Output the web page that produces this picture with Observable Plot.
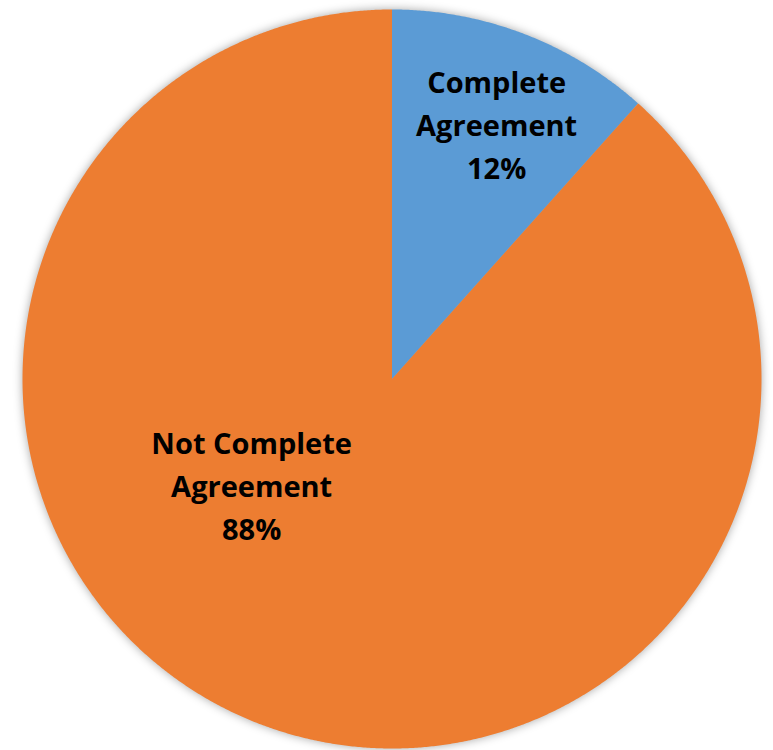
<!DOCTYPE html>
<html>
<head>
<meta charset="utf-8">
<script src="https://cdn.jsdelivr.net/npm/d3@7"></script>
<script src="https://cdn.jsdelivr.net/npm/@observablehq/plot@0.6"></script>
<style>
  html, body { margin: 0; padding: 0; background: #ffffff; }
  #chart { width: 773px; height: 750px; }
</style>
</head>
<body>
<div id="chart"></div>
<script>
// ---- data ----
const categories = ["Complete Agreement", "Not Complete Agreement"];
const values = [11.6, 88.4];
const labelNames = [["Complete", "Agreement"], ["Not Complete", "Agreement"]];
const colors = ["#5B9BD5", "#ED7D31"];

// ---- layout (not data) ----
const W = 773, H = 750;
const cx = 391.5, cy = 378.5, R = 369.5;
// label placement: angle (deg, clockwise from 12 o'clock) and radius fraction
const labelPlacement = [{angle: 22.5, r: 0.74}, {angle: 232.3, r: 0.48}];

const total = d3.sum(values);
const pie = d3.pie().sort(null).value(d => d.value)(
  categories.map((c, i) => ({category: c, value: values[i]}))
);

// polygon points for each slice in unit coordinates (y up)
const slicePts = [];
pie.forEach((s, i) => {
  const n = Math.max(2, Math.ceil((s.endAngle - s.startAngle) / 0.005));
  slicePts.push({cat: categories[i], x: 0, y: 0});
  for (let k = 0; k <= n; k++) {
    const a = s.startAngle + (s.endAngle - s.startAngle) * k / n;
    slicePts.push({cat: categories[i], x: Math.sin(a), y: Math.cos(a)});
  }
  slicePts.push({cat: categories[i], x: 0, y: 0});
});

const lineH = 43 / R;
const labelRows = [];
labelPlacement.forEach((p, i) => {
  const a = p.angle * Math.PI / 180;
  const lx = p.r * Math.sin(a), ly = p.r * Math.cos(a);
  const lines = [...labelNames[i], Math.round(values[i] / total * 100) + "%"];
  lines.forEach((t, j) => {
    labelRows.push({text: t, x: lx, y: ly - (j - (lines.length - 1) / 2) * lineH});
  });
});

const chart = Plot.plot({
  width: W, height: H,
  margin: 0,
  x: {domain: [-cx / R, (W - cx) / R], axis: null},
  y: {domain: [-(H - cy) / R, cy / R], axis: null},
  color: {domain: categories, range: colors},
  marks: [
    Plot.line(slicePts, {x: "x", y: "y", z: "cat", fill: "cat", stroke: "none", curve: "linear"}),
    Plot.text(labelRows, {
      x: "x", y: "y", text: "text",
      fill: "#000000", fontSize: 29, fontWeight: "bold",
      fontFamily: "'Open Sans', sans-serif",
      textAnchor: "middle"
    })
  ]
});
const lineG = chart.querySelector("g[aria-label='line']");
if (lineG) lineG.style.filter = "drop-shadow(0px 0px 5px rgba(0,0,0,0.35))";
document.getElementById("chart").appendChild(chart);
</script>
</body>
</html>
